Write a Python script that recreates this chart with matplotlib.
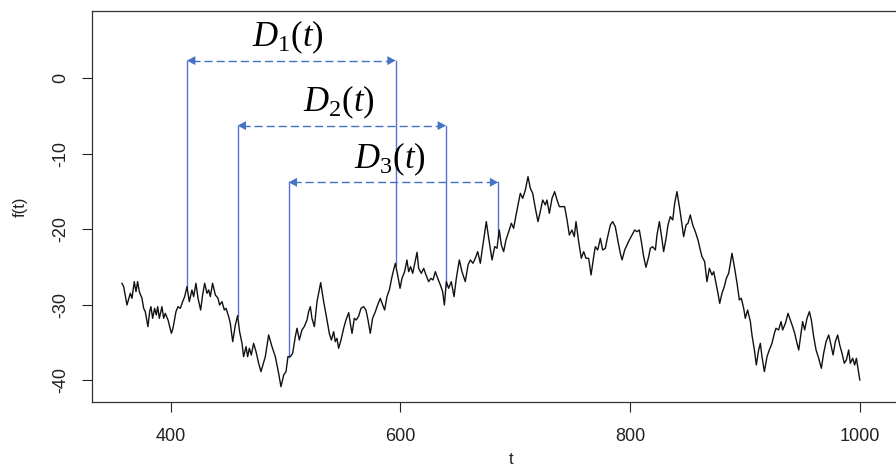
import numpy as np
import matplotlib
matplotlib.use("Agg")
import matplotlib.pyplot as plt

plt.rcParams["font.family"] = ["Liberation Sans", "DejaVu Sans"]
plt.rcParams["mathtext.fontset"] = "custom"
plt.rcParams["mathtext.rm"] = "Liberation Serif"
plt.rcParams["mathtext.it"] = "Liberation Serif:italic"

# Path f(t)
t = [357.6, 359.05, 361.95, 364.85, 366.3, 368.3, 369.8, 371.2, 372.7, 375.0,
     376.5, 377.9, 380.2, 381.7, 382.8, 384.3, 386.0, 387.5, 388.7, 390.1,
     392.4, 393.9, 395.3, 397.7, 400.6, 402.0, 404.6, 406.4, 408.4, 410.4,
     412.2, 414.2, 416.2, 418.5, 420.0, 422.0, 423.8, 426.1, 427.8, 429.6,
     431.6, 433.1, 434.5, 436.5, 438.9, 441.2, 442.6, 444.7, 446.7, 448.2,
     450.5, 451.9, 454.0, 456.3, 458.3, 460.0, 462.1, 463.5, 465.6, 467.0,
     468.5, 470.2, 472.2, 474.3, 476.6, 478.6, 482.4, 485.3, 488.2, 491.1,
     494.0, 496.0, 498.4, 500.4, 502.1, 504.2, 506.2, 508.5, 510.0, 512.0,
     514.3, 516.3, 518.7, 520.1, 521.6, 523.0, 525.1, 527.4, 530.6, 533.2,
     536.1, 538.1, 539.9, 541.9, 543.3, 544.8, 546.2, 548.3, 550.6, 552.6,
     555.0, 556.4, 557.9, 559.9, 561.6, 563.7, 565.7, 568.0, 570.0, 571.8,
     573.8, 575.8, 578.2, 580.2, 582.5, 584.6, 586.3, 588.3, 590.4, 592.7,
     594.1, 595.6, 597.9, 599.7, 601.4, 603.7, 605.7, 607.2, 608.9, 610.7,
     614.5, 615.9, 618.2, 620.3, 622.3, 624.6, 626.6, 628.4, 630.4, 632.5,
     634.8, 636.8, 638.3, 640.0, 642.0, 644.3, 646.7, 648.7, 651.3, 653.6,
     656.5, 658.9, 660.9, 663.2, 665.2, 667.3, 669.6, 671.0, 673.1, 674.8,
     676.9, 679.8, 682.1, 684.1, 686.1, 687.9, 689.9, 691.9, 694.3, 696.6,
     698.6, 700.7, 702.4, 704.4, 706.5, 708.8, 711.1, 713.1, 715.2, 717.5,
     719.8, 721.8, 723.9, 726.2, 727.6, 729.7, 732.0, 734.3, 736.4, 738.4,
     743.0, 745.1, 747.1, 749.4, 751.4, 752.9, 755.2, 757.5, 759.6, 761.6,
     763.9, 766.0, 768.3, 769.7, 771.8, 774.1, 776.1, 778.4, 780.5, 782.8,
     784.8, 787.1, 789.5, 791.5, 793.0, 795.3, 797.3, 799.3, 801.7, 804.0,
     806.0, 808.0, 809.8, 811.8, 813.8, 816.2, 817.6, 819.6, 822.0, 823.4,
     825.5, 827.2, 829.2, 831.3, 833.0, 835.0, 837.1, 838.8, 840.8, 842.9,
     844.6, 846.6, 848.7, 850.4, 852.4, 854.5, 856.8, 859.1, 861.1, 862.6,
     864.9, 866.9, 869.0, 871.3, 872.8, 874.8, 876.5, 878.0, 880.0, 882.0,
     883.8, 885.8, 887.3, 888.7, 891.0, 893.1, 895.1, 896.8, 898.9, 900.3,
     902.3, 904.7, 906.1, 908.2, 909.9, 911.9, 913.4, 914.8, 916.9, 919.2,
     921.2, 923.5, 925.6, 927.0, 929.3, 931.4, 932.8, 935.2, 937.5, 939.5,
     941.5, 943.3, 945.3, 946.8, 948.8, 950.2, 952.0, 954.0, 956.1, 957.8,
     959.8, 961.9, 964.2, 966.5, 968.5, 970.6, 972.9, 974.9, 976.7, 978.7,
     980.7, 982.5, 984.5, 986.5, 988.3, 990.3, 991.7, 993.8, 995.5, 997.0,
     998.4, 1000.0]
f = [-27.16, -27.60, -30.03, -28.48, -29.14, -26.94, -28.26, -26.94, -28.26, -29.14,
     -30.47, -30.91, -32.89, -30.91, -30.25, -31.79, -30.47, -31.35, -30.25, -31.79,
     -30.25, -31.79, -31.13, -32.01, -33.77, -33.11, -30.91, -30.25, -30.47, -29.59,
     -28.92, -27.60, -29.59, -28.04, -28.92, -27.16, -29.14, -30.69, -28.70, -27.16,
     -28.48, -28.04, -28.92, -27.16, -28.70, -29.14, -30.03, -29.59, -30.69, -30.47,
     -31.57, -32.45, -34.88, -32.67, -31.44, -33.55, -35.10, -36.86, -35.54, -36.86,
     -35.76, -36.64, -35.10, -36.20, -37.74, -38.84, -36.86, -33.99, -35.54, -36.86,
     -39.07, -40.83, -39.29, -38.85, -36.86, -36.86, -36.42, -34.22, -33.11, -34.66,
     -33.33, -32.89, -32.01, -30.91, -30.25, -31.79, -32.89, -29.59, -27.07, -29.59,
     -32.01, -33.78, -34.66, -33.55, -34.88, -34.44, -35.76, -34.66, -33.11, -32.01,
     -31.04, -32.45, -33.78, -31.79, -32.01, -31.48, -30.47, -30.25, -30.69, -32.01,
     -33.78, -31.79, -30.91, -30.03, -29.15, -30.03, -30.69, -28.93, -28.04, -26.28,
     -25.40, -24.52, -26.28, -27.82, -26.50, -25.62, -24.08, -25.62, -24.96, -25.84,
     -23.06, -25.18, -25.84, -25.18, -26.06, -26.94, -26.50, -26.72, -25.62, -26.50,
     -27.38, -28.26, -30.03, -26.94, -27.82, -26.94, -28.92, -26.50, -24.07, -25.62,
     -26.94, -24.74, -24.07, -24.51, -23.85, -22.97, -24.51, -22.97, -20.77, -19.00,
     -21.21, -24.07, -22.31, -22.53, -20.11, -22.09, -22.97, -21.43, -20.33, -19.22,
     -19.88, -18.12, -16.80, -15.26, -15.92, -14.81, -13.05, -14.59, -15.26, -17.24,
     -19.00, -17.68, -16.14, -16.80, -16.14, -17.90, -15.92, -15.04, -16.14, -17.02,
     -17.02, -18.78, -20.77, -20.11, -20.99, -19.00, -21.65, -23.85, -22.97, -23.85,
     -23.85, -26.06, -23.63, -22.31, -22.75, -21.21, -22.75, -22.53, -20.99, -19.44,
     -19.00, -19.66, -21.65, -23.19, -24.07, -22.75, -22.09, -21.43, -20.77, -20.11,
     -20.33, -20.11, -21.65, -23.63, -25.04, -23.63, -22.53, -22.31, -22.75, -20.77,
     -19.00, -20.77, -22.97, -21.21, -19.44, -18.34, -18.78, -16.58, -15.03, -17.02,
     -18.78, -20.99, -19.44, -19.22, -18.12, -19.44, -20.33, -21.43, -22.75, -23.63,
     -24.29, -26.94, -25.18, -26.06, -25.62, -27.16, -28.48, -29.81, -28.48, -27.60,
     -26.50, -25.84, -24.52, -23.19, -25.18, -27.16, -29.36, -29.14, -30.47, -31.79,
     -30.69, -32.23, -34.00, -35.98, -37.96, -35.98, -35.10, -36.86, -38.84, -36.86,
     -35.98, -35.10, -33.77, -33.11, -33.33, -32.23, -33.33, -32.45, -31.13, -32.01,
     -32.89, -33.77, -35.10, -35.98, -33.77, -32.23, -33.33, -31.79, -30.91, -32.01,
     -34.21, -35.98, -37.08, -38.40, -36.42, -34.88, -34.00, -35.32, -36.64, -34.88,
     -34.00, -35.32, -36.42, -37.74, -37.30, -35.98, -37.74, -37.08, -37.96, -37.08,
     -38.40, -39.95]

# Windows D_k(t): start time, end time, height of the span arrow
win_labels = [r"$D_{\mathit{1}}(t)$", r"$D_{\mathit{2}}(t)$", r"$D_{\mathit{3}}(t)$"]
win_start = [414.2, 458.3, 502.7]
win_end = [595.9, 639.7, 685.2]
win_level = [2.3, -6.3, -13.8]

x_ticks = [400, 600, 800, 1000]
y_ticks = [-40, -30, -20, -10, 0]

W, H = 896, 465
fig = plt.figure(figsize=(W / 100, H / 100), dpi=100)
ax = fig.add_axes([92 / W, (H - 402.3) / H, (930 - 92) / W, (402.3 - 11) / H])

ax.plot(t, f, color="#111111", lw=1.0, zorder=3)

vcol = "#5B6FD6"
acol = "#4472C4"
for lab, a, b, lev in zip(win_labels, win_start, win_end, win_level):
    fa = np.interp(a, t, f)
    fb = np.interp(b, t, f)
    ax.plot([a, a], [fa, lev], color=vcol, lw=1.0, zorder=2)
    ax.plot([b, b], [fb, lev], color=vcol, lw=1.0, zorder=2)
    ax.plot([a + 4, b - 4], [lev, lev], color=acol, lw=1.0,
            dashes=(5.8, 2.9), zorder=2)
    for tip, tail in ((a, a + 12), (b, b - 12)):
        ax.annotate("", xy=(tip, lev), xytext=(tail, lev),
                    arrowprops=dict(arrowstyle="-|>,head_length=0.6,head_width=0.32",
                                    lw=0.01, fc=acol, ec=acol,
                                    shrinkA=0, shrinkB=0), zorder=4)
    ax.text((a + b) / 2 - 3, lev + 3.1, lab, fontsize=25, color="black",
            ha="center", va="center", zorder=5)

ax.set_xlim(331.5, 1061.1)
ax.set_ylim(-42.9, 8.86)
ax.set_xticks(x_ticks)
ax.set_yticks(y_ticks)
ax.set_xticklabels([str(v) for v in x_ticks])
ax.set_yticklabels([str(v) for v in y_ticks], rotation=90, va="center")
ax.tick_params(axis="both", direction="out", length=7.2, width=0.8,
               colors="#222222", labelsize=13)
ax.tick_params(axis="x", pad=11.5)
ax.tick_params(axis="y", pad=9.5)
for s in ax.spines.values():
    s.set_color("#333333")
    s.set_linewidth(0.9)

fig.text(20 / W, 1 - 207 / H, "f(t)", rotation=90, ha="center", va="center",
         fontsize=12, color="#222222")
fig.text(511 / W, 1 - 459 / H, "t", ha="center", va="center",
         fontsize=12, color="#222222")

fig.savefig("out.png", dpi=100)
